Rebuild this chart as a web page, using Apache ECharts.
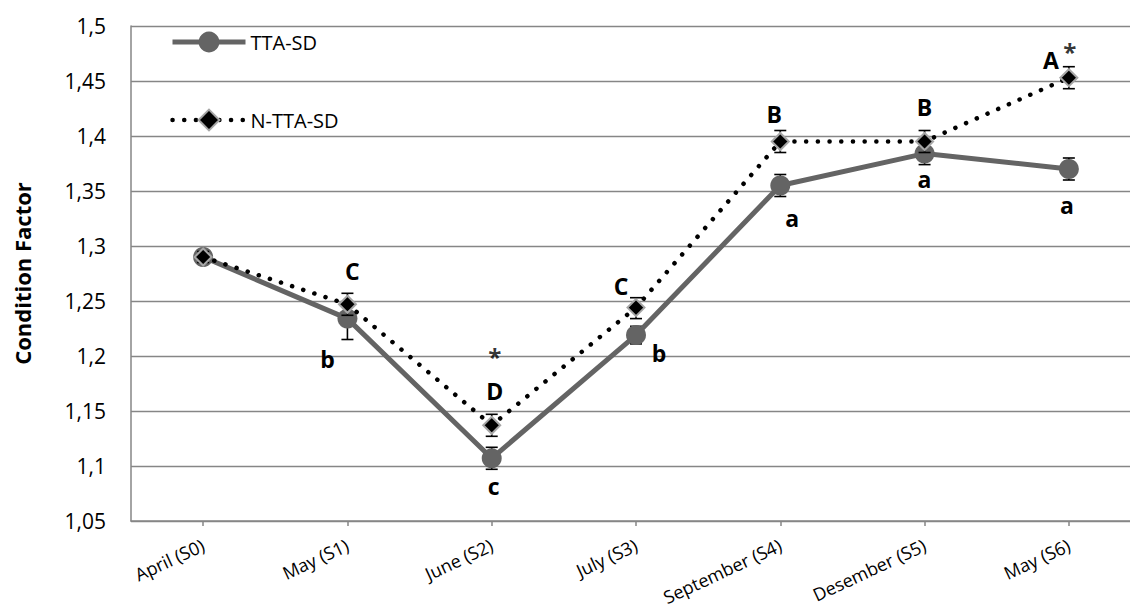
<!DOCTYPE html>
<html>
<head>
<meta charset="utf-8">
<script src="https://cdn.jsdelivr.net/npm/echarts@6/dist/echarts.min.js"></script>
<style>
html,body{margin:0;padding:0;background:#fff;}
#chart{width:1130px;height:611px;}
</style>
</head>
<body>
<div id="chart"></div>
<script>
// ---- data ----
var categories = ['April (S0)', 'May (S1)', 'June (S2)', 'July (S3)', 'September (S4)', 'Desember (S5)', 'May (S6)'];
var ttaValues  = [1.290, 1.234, 1.107, 1.219, 1.355, 1.384, 1.370];
var ttaErrUp   = [0.005, 0.012, 0.010, 0.008, 0.010, 0.010, 0.010];
var ttaErrDown = [0.005, 0.019, 0.010, 0.008, 0.010, 0.010, 0.010];
var nttaValues = [1.290, 1.247, 1.137, 1.244, 1.395, 1.395, 1.453];
var nttaErrUp  = [0.005, 0.010, 0.010, 0.009, 0.010, 0.010, 0.010];
var nttaErrDown= [0.005, 0.010, 0.010, 0.010, 0.010, 0.010, 0.010];
var ttaLetters  = ['', 'b', 'c', 'b', 'a', 'a', 'a'];
var nttaLetters = ['', 'C', 'D', 'C', 'B', 'B', 'A'];
var stars       = ['', '', '*', '', '', '', '*'];
var yTicks = {min: 1.05, max: 1.5, interval: 0.05};

// ---- layout / style (not data) ----
var ttaLabelOffsets  = [[0,0], [-20,40], [2,28], [23,18], [12,32], [0,25], [-2,36]];
var nttaLabelOffsets = [[0,0], [5,-33], [3,-34], [-15,-22], [-6,-28], [0,-35], [-18,-18]];
var starOffsets      = [[0,0], [0,0], [3,-69], [0,0], [0,0], [0,0], [1,-26]];

var FONT = '"Open Sans", "DejaVu Sans", sans-serif';
var AXIS_COLOR = '#868686';

function withLabels(values, letters, offsets, fontSize, bold) {
  return values.map(function (v, i) {
    return {
      value: v,
      label: {
        show: !!letters[i],
        position: 'inside',
        formatter: letters[i],
        offset: offsets[i],
        fontFamily: FONT,
        fontSize: fontSize,
        fontWeight: bold ? 'bold' : 'normal',
        color: '#000'
      }
    };
  });
}

function errData(values, up, down) {
  return values.map(function (v, i) { return [i, v - down[i], v + up[i]]; });
}

function errRender(params, api) {
  var x = api.value(0);
  var lo = api.coord([x, api.value(1)]);
  var hi = api.coord([x, api.value(2)]);
  var hw = 6;
  var style = {stroke: '#000', lineWidth: 1.6, fill: null};
  return {
    type: 'group',
    children: [
      {type: 'line', shape: {x1: lo[0], y1: lo[1], x2: hi[0], y2: hi[1]}, style: style},
      {type: 'line', shape: {x1: lo[0] - hw, y1: lo[1], x2: lo[0] + hw, y2: lo[1]}, style: style},
      {type: 'line', shape: {x1: hi[0] - hw, y1: hi[1], x2: hi[0] + hw, y2: hi[1]}, style: style}
    ]
  };
}

var TTA_LINE = {color: '#646464', width: 5};
var NTTA_LINE = {color: '#000', width: 4.5, type: [0.1, 11.6], cap: 'round'};
var TTA_ITEM = {color: '#646464'};
var NTTA_ITEM = {color: '#000', borderColor: '#a6a6a6', borderWidth: 2};

var chart = echarts.init(document.getElementById('chart'), null, {renderer: 'svg'});
chart.setOption({
  animation: false,
  backgroundColor: '#fff',
  grid: {left: 131, top: 26, width: 1010, height: 495, containLabel: false, outerBoundsMode: 'none'},
  legend: {
    data: [
      {name: 'TTA-SD', lineStyle: TTA_LINE, itemStyle: TTA_ITEM},
      {name: 'N-TTA-SD', lineStyle: NTTA_LINE, itemStyle: NTTA_ITEM}
    ],
    orient: 'vertical',
    left: 165,
    top: 24,
    itemWidth: 73,
    itemHeight: 26,
    itemGap: 52,
    textStyle: {fontFamily: FONT, fontSize: 20, color: '#000', lineHeight: 26}
  },
  xAxis: {
    type: 'category',
    data: categories,
    boundaryGap: true,
    axisLine: {lineStyle: {color: AXIS_COLOR, width: 1.5}},
    axisTick: {show: true, alignWithLabel: true, length: 5, lineStyle: {color: AXIS_COLOR, width: 1.5}},
    axisLabel: {interval: 0, rotate: 25, margin: 23, fontFamily: FONT, fontSize: 18, color: '#000'},
    splitLine: {show: false}
  },
  yAxis: {
    type: 'value',
    min: yTicks.min,
    max: yTicks.max,
    interval: yTicks.interval,
    name: 'Condition Factor',
    nameLocation: 'middle',
    nameGap: 98,
    nameRotate: 90,
    nameTextStyle: {fontFamily: FONT, fontSize: 22, fontWeight: 'bold', color: '#000'},
    axisLine: {show: true, lineStyle: {color: AXIS_COLOR, width: 1.5}},
    axisTick: {show: false},
    axisLabel: {
      margin: 25,
      fontFamily: FONT,
      fontSize: 21,
      color: '#000',
      formatter: function (v) { return String(Math.round(v * 100) / 100).replace('.', ','); }
    },
    splitLine: {show: true, lineStyle: {color: AXIS_COLOR, width: 1.3}}
  },
  series: [
    {
      name: 'TTA-SD',
      type: 'line',
      data: withLabels(ttaValues, ttaLetters, ttaLabelOffsets, 23, true),
      symbol: 'circle',
      symbolSize: 20,
      showAllSymbol: true,
      lineStyle: TTA_LINE,
      itemStyle: TTA_ITEM,
      z: 3
    },
    {
      name: 'N-TTA-SD',
      type: 'line',
      data: withLabels(nttaValues, nttaLetters, nttaLabelOffsets, 23, true),
      symbol: 'diamond',
      symbolSize: 17,
      showAllSymbol: true,
      lineStyle: NTTA_LINE,
      itemStyle: NTTA_ITEM,
      z: 4
    },
    {
      name: 'stars',
      type: 'scatter',
      data: withLabels(nttaValues, stars, starOffsets, 24, true),
      symbolSize: 1,
      itemStyle: {color: 'rgba(0,0,0,0)'},
      z: 5
    },
    {
      name: 'ttaErr',
      type: 'custom',
      renderItem: errRender,
      data: errData(ttaValues, ttaErrUp, ttaErrDown),
      z: 2
    },
    {
      name: 'nttaErr',
      type: 'custom',
      renderItem: errRender,
      data: errData(nttaValues, nttaErrUp, nttaErrDown),
      z: 3.5
    }
  ]
});
</script>
</body>
</html>
